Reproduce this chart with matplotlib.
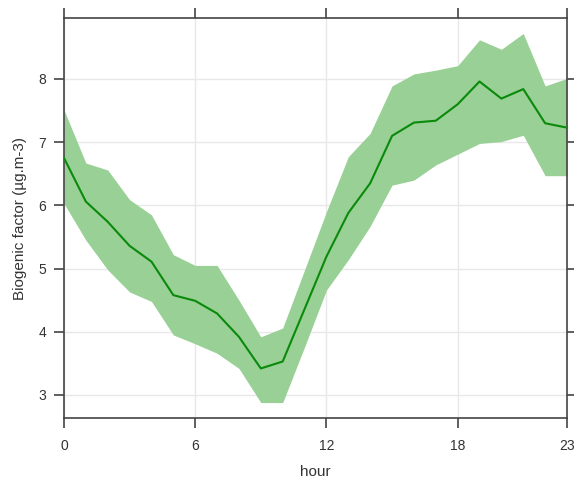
import matplotlib
matplotlib.use("Agg")
import matplotlib.pyplot as plt

hours = list(range(24))
mean = [6.75, 6.06, 5.74, 5.36, 5.11, 4.58, 4.49, 4.29, 3.92, 3.42, 3.53, 4.36,
        5.19, 5.88, 6.35, 7.10, 7.31, 7.34, 7.60, 7.96, 7.69, 7.84, 7.30, 7.23]
upper = [7.51, 6.67, 6.56, 6.09, 5.85, 5.22, 5.05, 5.05, 4.50, 3.92, 4.06, 4.98,
         5.90, 6.77, 7.14, 7.89, 8.08, 8.14, 8.21, 8.62, 8.47, 8.72, 7.89, 8.01]
lower = [6.03, 5.45, 4.98, 4.63, 4.48, 3.95, 3.81, 3.66, 3.42, 2.88, 2.88, 3.76,
         4.66, 5.14, 5.67, 6.32, 6.40, 6.64, 6.81, 6.98, 7.01, 7.11, 6.47, 6.47]
xticks = [0, 6, 12, 18, 23]
yticks = [3, 4, 5, 6, 7, 8]

plt.rcParams['font.family'] = ['Liberation Sans', 'DejaVu Sans']

fig = plt.figure(figsize=(5.74, 4.83), dpi=100)
ax = fig.add_axes([64/574, 1-418/483, (567-64)/574, (418-18)/483])

ax.fill_between(hours, lower, upper, color='#99d095', linewidth=0, zorder=2)
ax.plot(hours, mean, color='#0a8a0a', linewidth=1.5, zorder=3)

ax.set_xlim(0, 23)
ax.set_ylim(2.636, 8.965)
ax.set_xticks(xticks)
ax.set_yticks(yticks)
ax.grid(True, color='#e8e8e8', linewidth=1, zorder=0)
ax.set_axisbelow(True)

for s in ax.spines.values():
    s.set_color('#444444')
    s.set_linewidth(1.2)

ax.tick_params(axis='both', which='both', direction='out', length=7, width=1.2,
               color='#444444', labelsize=10, labelcolor='#333333',
               top=True, right=True, labeltop=False, labelright=False, pad=8)
ax.tick_params(axis='y', pad=6)

ax.set_xlabel('hour', fontsize=11, color='#333333', labelpad=9)
ax.set_ylabel('Biogenic factor (µg.m-3)', fontsize=11, color='#333333', labelpad=8)

fig.savefig('out.png', dpi=100, facecolor='white')
